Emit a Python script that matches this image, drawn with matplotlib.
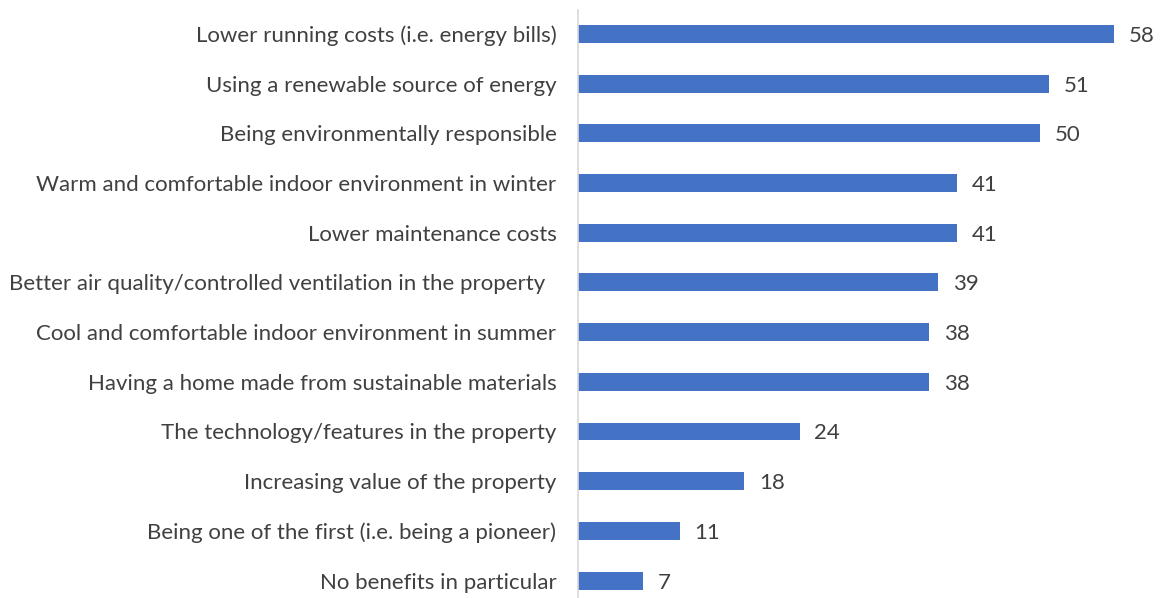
import matplotlib
matplotlib.use("Agg")
import matplotlib.pyplot as plt

categories = [
    "Lower running costs (i.e. energy bills)",
    "Using a renewable source of energy",
    "Being environmentally responsible",
    "Warm and comfortable indoor environment in winter",
    "Lower maintenance costs",
    "Better air quality/controlled ventilation in the property  ",
    "Cool and comfortable indoor environment in summer",
    "Having a home made from sustainable materials",
    "The technology/features in the property",
    "Increasing value of the property",
    "Being one of the first (i.e. being a pioneer)",
    "No benefits in particular",
]
values = [58, 51, 50, 41, 41, 39, 38, 38, 24, 18, 11, 7]

plt.rcParams['font.family'] = ['Lato', 'DejaVu Sans']
W, H = 1169, 598
fig = plt.figure(figsize=(W/100, H/100), dpi=100)
ax = fig.add_axes([578/W, 0, (1160-578)/W, (598-10)/H])

ypos = list(range(len(categories)))
ax.barh(ypos, values, height=0.36, color="#4472C4")
ax.set_ylim(11.35, -0.48)
ax.set_xlim(0, 63)
for y, v in zip(ypos, values):
    ax.text(v + 1.6, y, str(v), va="center_baseline", ha="left", fontsize=16, color="#404040")
ax.set_yticks(ypos)
ax.set_yticklabels(categories, fontsize=16, color="#404040")
ax.tick_params(axis="y", length=0, pad=15.5)
ax.set_xticks([])
for s in ["top", "right", "bottom"]:
    ax.spines[s].set_visible(False)
ax.spines["left"].set_color("#D9D9D9")
ax.spines["left"].set_linewidth(1.2)
fig.savefig("out.png", dpi=100)
